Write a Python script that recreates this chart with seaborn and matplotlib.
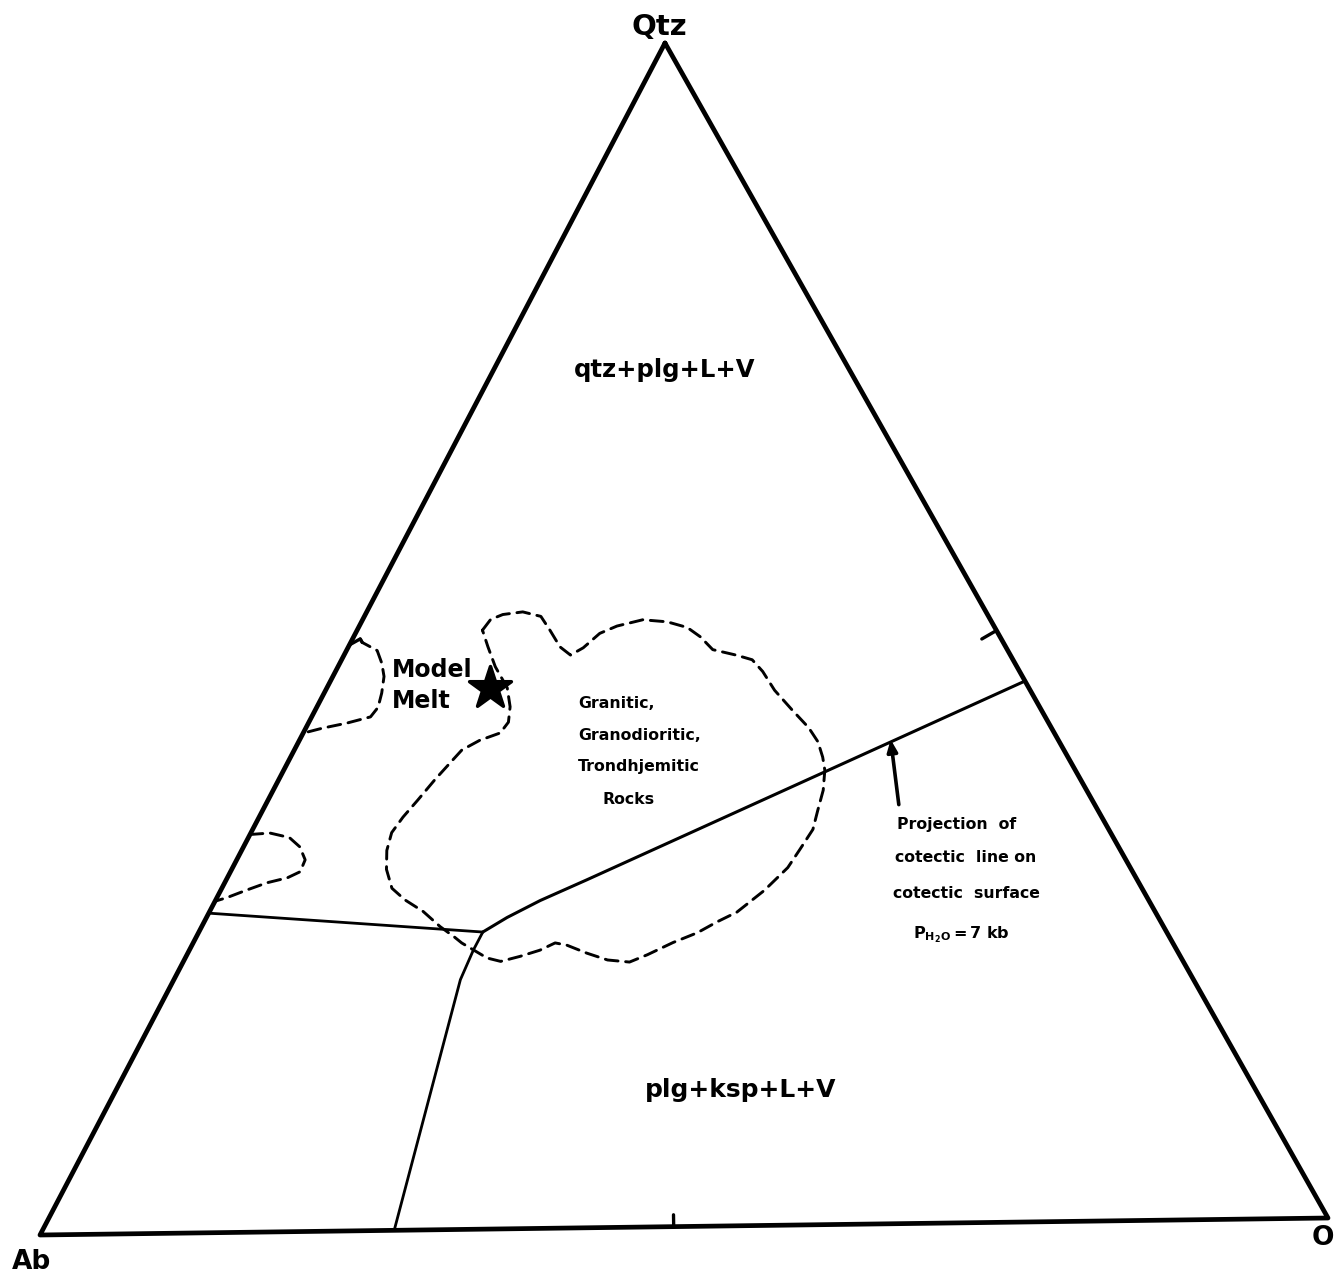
import numpy as np
import pandas as pd
import matplotlib
matplotlib.use("Agg")
import matplotlib.pyplot as plt
import seaborn as sns

# ---------------- data (ternary, percent: Qtz, Or; Ab = 100 - Qtz - Or) ----------------
# Solid phase boundaries
ab_boundary_qtz = [27.0, 25.1]
ab_boundary_or = [0.0, 22.2]

cotectic_qtz = [25.1, 26.3, 27.7, 29.4, 45.7]
cotectic_or = [22.2, 23.5, 25.4, 28.2, 54.3]

plg_ksp_qtz = [25.1, 23.6, 21.1, 0.0]
plg_ksp_or = [22.2, 22.2, 22.4, 27.5]

# Dashed field: Model Melt region
melt_qtz = [49.5, 50.0, 49.7, 49.0, 47.9, 46.8, 45.4, 44.2, 43.4, 42.9, 42.5, 42.1]
melt_or = [0.0, 0.6, 0.9, 2.4, 3.3, 4.0, 4.5, 4.8, 4.6, 3.0, 1.3, 0.0]

# Dashed field: small lower-left lobe
lobe_qtz = [33.6, 33.7, 33.3, 32.5, 31.4, 30.4, 29.9, 29.5, 28.9, 28.3, 28.0]
lobe_or = [0.0, 1.5, 3.2, 4.4, 5.35, 5.45, 4.7, 3.3, 2.0, 0.8, 0.0]

# Dashed field: granitic, granodioritic, trondhjemitic rocks
rocks_qtz = [50.6, 51.5, 51.9, 52.1, 51.7, 50.5, 49.1, 48.4, 49.0, 50.2, 50.8, 51.3,
             51.1, 50.6, 49.8, 48.7, 48.2, 47.8, 46.8, 45.2, 43.5, 42.0, 40.8, 39.5,
             38.4, 36.7, 35.0, 33.4, 31.7, 30.2, 28.3, 26.5, 25.7, 24.8, 24.0, 23.0,
             22.4, 22.6, 23.2, 23.9, 24.1, 23.5, 23.0, 22.6, 22.9, 23.5, 24.2, 24.7,
             25.6, 26.9, 27.9, 28.9, 30.5, 32.1, 33.6, 34.9, 36.3, 38.0, 39.4, 40.5,
             41.3, 41.9, 42.8, 44.1, 45.7, 47.5, 49.2, 50.6]
rocks_or = [9.8, 10.0, 10.75, 12.2, 13.8, 15.1, 16.55, 17.7, 18.4, 19.1, 20.15, 21.9,
            23.9, 25.7, 27.1, 28.6, 30.7, 32.1, 33.4, 35.1, 37.3, 39.3, 40.6, 41.6,
            42.3, 43.0, 43.4, 43.8, 43.6, 43.4, 42.5, 41.25, 40.1, 39.0, 37.5, 36.0,
            34.9, 33.1, 31.2, 29.3, 28.3, 27.4, 26.1, 24.8, 23.6, 22.4, 21.0, 20.2,
            18.65, 16.7, 14.8, 13.3, 12.1, 11.35, 11.0, 11.25, 11.7, 12.2, 12.7, 13.1,
            14.1, 15.4, 15.6, 15.1, 14.1, 12.3, 10.9, 9.8]

# Model melt composition (star)
star_qtz = [45.7]
star_or = [12.8]

# Arrow (tail -> head on cotectic line)
arrow_qtz = [35.4, 40.9]
arrow_or = [49.5, 46.2]

# Edge ticks at midpoints (start, end)
tick_qtz = [[49.5, 50.0, 49.7], [50.0, 49.3], [0.0, 1.0]]
tick_or = [[0.0, 0.6, 0.9], [50.0, 49.2], [49.2, 48.7]]

vertex_labels = ["Qtz", "Ab", "O"]
field_labels = ["qtz+plg+L+V", "plg+ksp+L+V"]
rock_lines = ["Granitic,", "Granodioritic,", "Trondhjemitic", "Rocks"]
note_lines = ["Projection  of", "cotectic  line on", "cotectic  surface"]

# ---------------- layout ----------------
W, H = 1334, 1277
AB = np.array([40.0, 1235.0])
OR = np.array([1328.0, 1218.0])
QZ = np.array([665.0, 43.0])


def tern(q, o):
    q = np.asarray(q, float) / 100.0
    o = np.asarray(o, float) / 100.0
    a = 1.0 - q - o
    x = a * AB[0] + o * OR[0] + q * QZ[0]
    y = a * AB[1] + o * OR[1] + q * QZ[1]
    return x, y


sns.set_style("white")
plt.rcParams["font.family"] = ["DejaVu Sans"]
plt.rcParams["text.color"] = "black"

fig = plt.figure(figsize=(W / 100, H / 100), dpi=100)
ax = fig.add_axes([0, 0, 1, 1])
ax.set_xlim(0, W)
ax.set_ylim(H, 0)
ax.axis("off")


def draw(q, o, lw, dashed=False):
    x, y = tern(q, o)
    df = pd.DataFrame({"x": x, "y": y})
    n_before = len(ax.lines)
    sns.lineplot(data=df, x="x", y="y", sort=False, estimator=None, color="black",
                 lw=lw, ax=ax, legend=False)
    ln = ax.lines[n_before]
    ln.set_solid_capstyle("round")
    ln.set_solid_joinstyle("round")
    if dashed:
        ln.set_dashes((4.4, 2.6))
        ln.set_dash_capstyle("round")
        ln.set_dash_joinstyle("round")
    return ln


# triangle frame
draw([100, 0, 0, 100], [0, 0, 100, 0], 3.4)

# ticks
for tq, to in zip(tick_qtz, tick_or):
    draw(tq, to, 2.4)

# solid boundaries
draw(ab_boundary_qtz, ab_boundary_or, 2.0)
draw(cotectic_qtz, cotectic_or, 2.2)
draw(plg_ksp_qtz, plg_ksp_or, 2.0)

# dashed fields
draw(melt_qtz[1:], melt_or[1:], 2.1, dashed=True)
draw(lobe_qtz, lobe_or, 2.1, dashed=True)
draw(rocks_qtz, rocks_or, 2.1, dashed=True)

# star
sx, sy = tern(star_qtz, star_or)
sns.scatterplot(x=sx, y=sy, marker="*", s=1000, color="black", edgecolor="black",
                ax=ax, legend=False, zorder=5)

# arrow
ax_, ay_ = tern(arrow_qtz, arrow_or)
ax.annotate("", xy=(ax_[1], ay_[1]), xytext=(ax_[0], ay_[0]),
            arrowprops=dict(arrowstyle="-|>,head_length=0.7,head_width=0.3",
                            color="black", lw=2.6, shrinkA=0, shrinkB=0))

tk = dict(color="black", fontweight="bold")
# vertex labels
ax.text(659, 27, vertex_labels[0], fontsize=21, ha="center", va="center", **tk)
ax.text(31, 1262, vertex_labels[1], fontsize=19, ha="center", va="center", **tk)
ax.text(1312, 1238, vertex_labels[2], fontsize=19, ha="left", va="center", **tk)

# field labels
fx, fy = tern([72.4, 11.5], [13.4, 48.8])
ax.text(fx[0], fy[0], field_labels[0], fontsize=17.5, ha="center", va="center", **tk)
ax.text(fx[1], fy[1], field_labels[1], fontsize=18, ha="center", va="center", **tk)

# model melt label
ax.text(392, 670, "Model", fontsize=17, ha="left", va="center", **tk)
ax.text(392, 701, "Melt", fontsize=17, ha="left", va="center", **tk)

# rock labels
for txt, (x, y) in zip(rock_lines, [(578, 703), (578, 736), (578, 767), (602, 799)]):
    ax.text(x, y, txt, fontsize=11.3, ha="left", va="center", **tk)

# note
for txt, (x, y) in zip(note_lines, [(897, 825), (895, 858), (893, 893)]):
    ax.text(x, y, txt, fontsize=11.3, ha="left", va="center", **tk)
ax.text(913, 935, r"$\mathbf{P_{H_2O}}$$\mathbf{=7\ kb}$", fontsize=11.5,
        ha="left", va="center", color="black")

fig.savefig("out.png", dpi=100, facecolor="white")
